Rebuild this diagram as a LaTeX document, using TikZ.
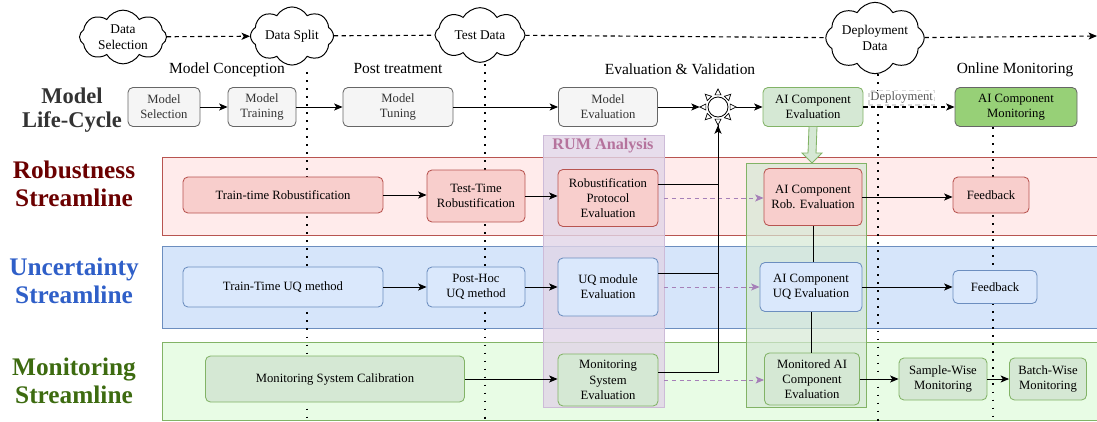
\documentclass[tikz,border=0pt]{standalone}
\usepackage{fontspec}
\setmainfont{Liberation Serif}
\usetikzlibrary{shapes.symbols,arrows.meta,calc,backgrounds}

\definecolor{grayfill}{HTML}{F5F5F5}
\definecolor{graydraw}{HTML}{666666}
\definecolor{graytext}{HTML}{333333}
\definecolor{redfill}{HTML}{F8CECC}
\definecolor{reddraw}{HTML}{B85450}
\definecolor{bluefill}{HTML}{DAE8FC}
\definecolor{bluedraw}{HTML}{6C8EBF}
\definecolor{greenfill}{HTML}{D5E8D4}
\definecolor{greendraw}{HTML}{82B366}
\definecolor{monfill}{HTML}{97D077}
\definecolor{redband}{HTML}{FFEBEB}
\definecolor{blueband}{HTML}{D6E5FA}
\definecolor{greenband}{HTML}{E8FCE5}
\definecolor{rumfill}{HTML}{E1D5E7}
\definecolor{rumdraw}{HTML}{CDBBD8}
\definecolor{rumtext}{HTML}{B5739D}
\definecolor{dashpurple}{HTML}{A680B8}
\definecolor{robtext}{HTML}{6B0000}
\definecolor{unctext}{HTML}{2F5FC8}
\definecolor{montext}{HTML}{3D6B10}

\tikzset{
  wh/.style 2 args={minimum width=#1*0.025cm, minimum height=#2*0.025cm},
  box/.style={draw, rounded corners=3.5pt, align=center, inner sep=1pt,
    font=\fontsize{9}{10.8}\selectfont, line width=0.6pt},
  lifebox/.style={box, fill=grayfill, draw=graydraw, text=graytext},
  robbox/.style={box, fill=redfill, draw=reddraw},
  uqbox/.style={box, fill=bluefill, draw=bluedraw},
  monbox/.style={box, fill=greenfill, draw=greendraw},
  datacloud/.style={cloud, cloud puffs=8, cloud puff arc=120, aspect=1.7, draw,
    fill=white, align=center, inner sep=0pt, font=\fontsize{9.5}{11}\selectfont,
    line width=0.7pt},
  phase/.style={font=\fontsize{11}{13}\selectfont},
  streamline/.style={font=\bfseries\fontsize{18}{20}\selectfont, align=center},
  band/.style={line width=0.6pt},
  phaseline/.style={line width=1.3pt, dash pattern=on 1.3pt off 4.4pt},
  dataline/.style={line width=0.8pt, dash pattern=on 3pt off 2.5pt},
  flow/.style={line width=0.7pt, ->},
  tocomp/.style={dashpurple, line width=0.7pt, dash pattern=on 3pt off 2.5pt, ->},
  >={Stealth[length=6pt,width=5pt,inset=1.5pt]}
}

\begin{document}
\begin{tikzpicture}[x=0.025cm, y=-0.025cm]
  \useasboundingbox (0,0) rectangle (1097,421);

  % Data clouds
  \node[datacloud, wh={87}{46}] (dsel) at (123,37) {Data\\Selection};
  \node[datacloud, wh={83}{50}] (dsplit) at (292,36) {Data Split};
  \node[datacloud, wh={90}{50}] (dtest) at (480,35) {Test Data};
  \node[datacloud, wh={90}{46}] (ddep) at (875,38) {Deployment\\Data};
  \coordinate (dend) at (1097,36);

  % Phase headers
  \node[phase] (hcon) at (227,70) {Model Conception};
  \node[phase] (hpost) at (398,69) {Post treatment};
  \node[phase] (heval) at (680,69) {Evaluation \& Validation};
  \node[phase] (honline) at (1015,70) {Online Monitoring};

  % Row labels
  \node[streamline, font=\bfseries\fontsize{16}{17.5}\selectfont, text=graytext] (llife) at (72,110) {Model\\Life-Cycle};
  \node[streamline, text=robtext] (lrob) at (74,184) {Robustness\\Streamline};
  \node[streamline, text=unctext] (lunc) at (74,281) {Uncertainty\\Streamline};
  \node[streamline, text=montext] (lmon) at (74,381) {Monitoring\\Streamline};

  % Model life-cycle
  \node[lifebox, wh={72}{39}] (msel) at (164,107) {Model\\Selection};
  \node[lifebox, wh={68}{39}] (mtrain) at (262,107) {Model\\Training};
  \node[lifebox, wh={110}{39}] (mtune) at (398,107) {Model\\Tuning};
  \node[lifebox, wh={99}{39}] (meval) at (608,107) {Model\\Evaluation};
  \node[circle, minimum size=0.9cm, inner sep=0pt] (sun) at (718,107) {};
  \node[monbox, wh={100}{39}] (aieval) at (813,107) {AI Component\\Evaluation};
  \node[box, fill=monfill, draw=graydraw, wh={122}{39}] (aimon) at (1016,107) {AI Component\\Monitoring};

  % Sun
  \draw[fill=white, line width=0.6pt] (sun.center) circle (0.25cm);
  \foreach \a in {0,45,...,315}
    \draw[fill=white, line width=0.5pt] ($(sun.center)+(\a+14:12.5)$) -- ($(sun.center)+(\a:18)$) -- ($(sun.center)+(\a-14:12.5)$) -- cycle;

  % Robustness streamline
  \node[robbox, wh={200}{36}] (trrob) at (283,195) {Train-time Robustification};
  \node[robbox, wh={98}{52}] (ttrob) at (476,196) {Test-Time\\Robustification};
  \node[robbox, wh={100}{57}] (rpe) at (608,198) {Robustification\\Protocol\\Evaluation};
  \node[robbox, wh={98}{57}] (airob) at (813,197) {AI Component\\Rob. Evaluation};
  \node[robbox, wh={76}{36}] (fbrob) at (991,195) {Feedback};

  % Uncertainty streamline
  \node[uqbox, wh={200}{40}] (truq) at (283,287) {Train-Time UQ method};
  \node[uqbox, wh={98}{40}] (phuq) at (476,287) {Post-Hoc\\UQ method};
  \node[uqbox, wh={100}{58}] (uqeval) at (608,287) {UQ module\\Evaluation};
  \node[uqbox, wh={102}{49}] (aiuq) at (811,287) {AI Component\\UQ Evaluation};
  \node[uqbox, wh={84}{33}] (fbuq) at (995,287) {Feedback};

  % Monitoring streamline
  \node[monbox, wh={259}{46}] (mscal) at (335,379) {Monitoring System Calibration};
  \node[monbox, wh={100}{52}] (mseval) at (608,380) {Monitoring\\System\\Evaluation};
  \node[monbox, wh={95}{52}] (aimoneval) at (812,379) {Monitored AI\\Component\\Evaluation};
  \node[monbox, wh={88}{42}] (sample) at (943,379) {Sample-Wise\\Monitoring};
  \node[monbox, wh={77}{42}] (batch) at (1048,379) {Batch-Wise\\Monitoring};

  % RUM header
  \node[font=\bfseries\fontsize{11.5}{13}\selectfont, text=rumtext] (rum) at (603,146) {RUM Analysis};

  % Phase cuts
  \coordinate (cutsplit) at (307,72);
  \coordinate (cuttest) at (485,64);
  \coordinate (cutdep) at (878,66);
  \coordinate (cutmon) at (993,127);

  % Bands, columns and phase cuts
  \begin{scope}[on background layer]
    \draw[band, fill=redband, draw=reddraw] (162,157) rectangle (1100,235);
    \draw[band, fill=blueband, draw=bluedraw] (162,246) rectangle (1100,328);
    \draw[band, fill=greenband, draw=greendraw] (162,342) rectangle (1100,420);
    \draw[fill=rumfill, fill opacity=0.8, draw=rumdraw] (543,135) rectangle (664,407);
    \draw[fill=greenfill, fill opacity=0.7, draw=greendraw, line width=0.6pt] (746,163) rectangle (866,407);
    \draw[phaseline] (cutsplit) -- (307,421);
    \draw[phaseline] (cuttest) -- (485,421);
    \draw[phaseline] (cutdep) -- (878,421);
    \draw[phaseline] (cutmon) -- (993,421);
  \end{scope}

  % Data flow
  \draw[dataline, ->] (dsel) -- (dsplit);
  \draw[dataline] (dsplit) -- (dtest);
  \draw[dataline] (dtest) -- (ddep);
  \draw[dataline, ->] (ddep) -- (dend);

  % Life-cycle arrows
  \draw[flow] (msel) -- (mtrain);
  \draw[flow] (mtrain) -- (mtune);
  \draw[flow] (mtune) -- (meval);
  \draw[flow] (meval) -- (sun);
  \draw[flow] (sun) -- (aieval);
  \draw[dataline, ->] (aieval) -- node[above=1pt, pos=0.42, fill=white, draw=black!15, inner sep=1pt,
    text=black!65, font=\fontsize{9}{10}\selectfont] {Deployment} (aimon);

  % Green block arrow
  \coordinate (coltop) at (812,163);
  \draw[fill=greenfill, draw=greendraw, line width=0.6pt] ($(aieval.south)+(-4,0)$) -- ($(coltop)+(-4,-10)$)
    -- ($(coltop)+(-10,-10)$) -- (coltop) -- ($(coltop)+(10,-10)$) -- ($(coltop)+(4,-10)$) -- ($(aieval.south)+(4,0)$);

  % Robustness arrows
  \draw[flow] (trrob) -- (trrob.east -| ttrob.west);
  \draw[flow] (ttrob.east) -- (ttrob.east -| rpe.west);
  \draw[line width=0.7pt] ($(rpe.east)+(0,-14)$) -| (sun);
  \draw[tocomp, shorten <=4pt] (rpe.east) -- (rpe.east -| airob.west);
  \draw[flow] (airob.east) -- (airob.east -| fbrob.west);
  \draw[line width=0.7pt] (airob.south) -- (airob.south |- aiuq.north);

  % Uncertainty arrows
  \draw[flow] (truq) -- (phuq);
  \draw[flow] (phuq) -- (uqeval);
  \draw[line width=0.7pt] ($(uqeval.east)+(0,-14)$) -| (sun);
  \draw[tocomp, shorten <=4pt] (uqeval.east) -- (uqeval.east -| aiuq.west);
  \draw[flow] (aiuq.east) -- (aiuq.east -| fbuq.west);
  \draw[line width=0.7pt] (aiuq.south) -- (aiuq.south |- aimoneval.north);

  % Monitoring arrows
  \draw[flow] (mscal.east) -- (mscal.east -| mseval.west);
  \draw[flow] ($(mseval.east)+(0,-8)$) -| (sun);
  \draw[tocomp, shorten <=4pt] (mseval.east) -- (mseval.east -| aimoneval.west);
  \draw[flow] (aimoneval) -- (sample);
  \draw[flow] (sample) -- (batch);
\end{tikzpicture}
\end{document}
